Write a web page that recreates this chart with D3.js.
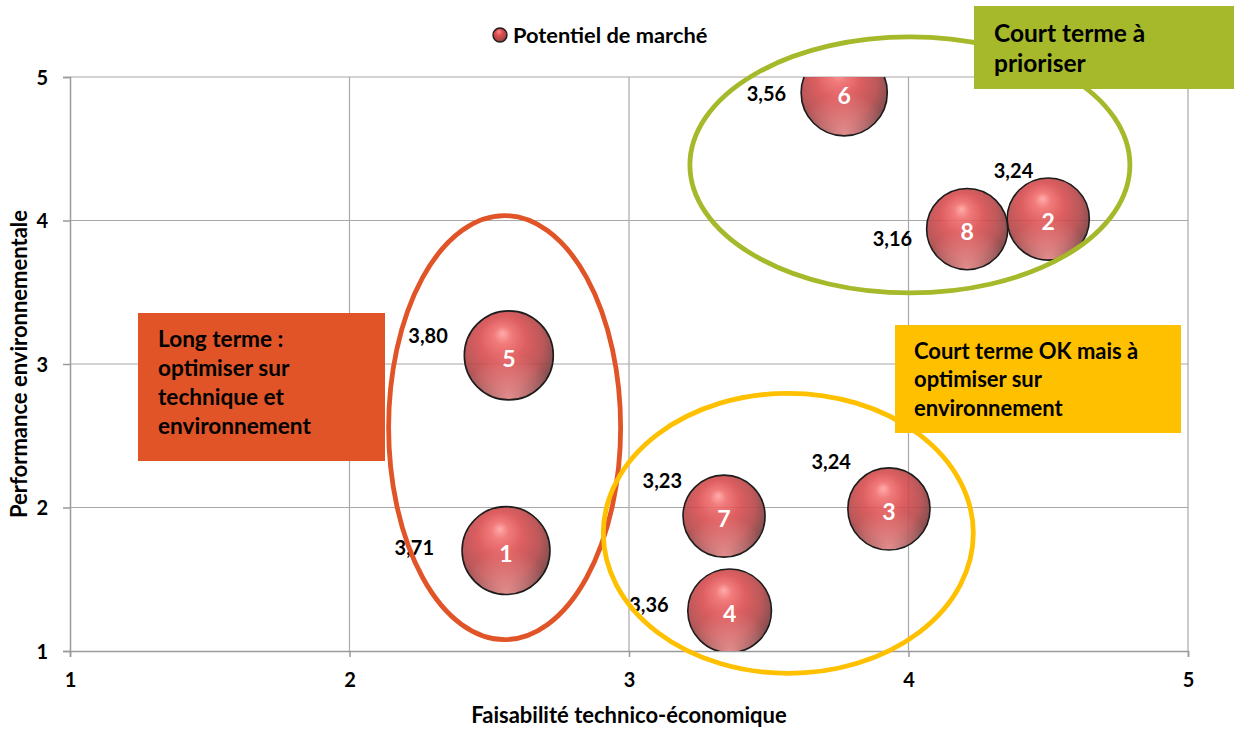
<!DOCTYPE html>
<html>
<head>
<meta charset="utf-8">
<script src="https://cdn.jsdelivr.net/npm/d3@7/dist/d3.min.js"></script>
<style>
  html, body { margin: 0; padding: 0; background: #fff; }
  svg { display: block; font-family: Lato, "Open Sans", sans-serif; font-weight: bold; }
</style>
</head>
<body>
<div id="chart"></div>
<script>
// ---- data ----
const projets = ["1", "2", "3", "4", "5", "6", "7", "8"];
const faisabilite = [2.56, 4.50, 3.93, 3.36, 2.57, 3.77, 3.34, 4.21];   // x
const performance = [1.70, 4.01, 1.99, 1.28, 3.06, 4.89, 1.94, 3.94];   // y
const potentiel   = [3.71, 3.24, 3.24, 3.36, 3.80, 3.56, 3.23, 3.16];   // bubble size
const xTicks = [1, 2, 3, 4, 5];
const yTicks = [1, 2, 3, 4, 5];
const seriesName = "Potentiel de marché";
const xTitle = "Faisabilité technico-économique";
const yTitle = "Performance environnementale";
const zones = [
  { lines: ["Court terme à", "prioriser"], colour: "#a5b92a" },
  { lines: ["Long terme :", "optimiser sur", "technique et", "environnement"], colour: "#e05428" },
  { lines: ["Court terme OK mais à", "optimiser sur", "environnement"], colour: "#ffc000" }
];
// label offsets (px) of the value labels relative to bubble centre (layout only)
const labelOffsets = [[-72, -3], [-15, -48], [-38, -47], [-61, -6], [-61, -20], [-58, 1], [-42, -35], [-55, 10]];

const W = 1235, H = 729;
const svg = d3.select("#chart").append("svg").attr("width", W).attr("height", H);

const x = d3.scaleLinear().domain([1, 5]).range([70, 1188]);
const y = d3.scaleLinear().domain([1, 5]).range([651, 77]);
const r = d3.scaleSqrt().domain([0, d3.max(potentiel)]).range([0, 44.5]);
const fmt = d3.formatLocale({ decimal: ",", thousands: " ", grouping: [3], currency: ["", "€"] }).format(".2f");

const defs = svg.append("defs");
const g1 = defs.append("radialGradient").attr("id", "ball")
  .attr("cx", 0.44).attr("cy", 0.42).attr("r", 0.62).attr("fx", 0.43).attr("fy", 0.25);
[[0, "#ffa3a3"], [0.16, "#f06c6c"], [0.42, "#d94d4f"], [0.72, "#b54648"], [1, "#6a3a3a"]]
  .forEach(([o, c]) => g1.append("stop").attr("offset", o).attr("stop-color", c));
const g2 = defs.append("radialGradient").attr("id", "refl")
  .attr("cx", 0.5).attr("cy", 0.98).attr("r", 0.5);
g2.append("stop").attr("offset", 0).attr("stop-color", "#ffa0a0").attr("stop-opacity", 0.75);
g2.append("stop").attr("offset", 1).attr("stop-color", "#ffa0a0").attr("stop-opacity", 0);
defs.append("clipPath").attr("id", "plotClip").append("rect")
  .attr("x", x(1)).attr("y", y(5)).attr("width", x(5) - x(1)).attr("height", y(1) - y(5));

// ---- grid ----
const grid = svg.append("g");
grid.selectAll(".vg").data(xTicks.slice(1)).join("line")
  .attr("x1", d => x(d)).attr("x2", d => x(d)).attr("y1", y(5)).attr("y2", y(1))
  .attr("stroke", "#a8a8a8").attr("stroke-width", 1.2);
grid.selectAll(".hg").data(yTicks.slice(1)).join("line")
  .attr("x1", x(1)).attr("x2", x(5)).attr("y1", d => y(d)).attr("y2", d => y(d))
  .attr("stroke", "#a8a8a8").attr("stroke-width", 1.2);

// ---- axes ----
const xAxis = svg.append("g").attr("transform", `translate(0,${y(1)})`)
  .call(d3.axisBottom(x).tickValues(xTicks).tickSize(6).tickPadding(16).tickFormat(d3.format("d")));
const yAxis = svg.append("g").attr("transform", `translate(${x(1)},0)`)
  .call(d3.axisLeft(y).tickValues(yTicks).tickSize(7).tickPadding(15).tickFormat(d3.format("d")));
[xAxis, yAxis].forEach(a => {
  a.select(".domain").attr("stroke", "#9a9a9a").attr("stroke-width", 1.5);
  a.selectAll(".tick line").attr("stroke", "#9a9a9a").attr("stroke-width", 1.5);
  a.selectAll(".tick text").attr("fill", "#000").style("font-family", "Lato").style("font-weight", "bold").style("font-size", "20px");
});
yAxis.selectAll(".tick text").attr("dy", "0.36em");
xAxis.selectAll(".tick text").attr("dy", "0.71em");

svg.append("text").attr("x", (x(1) + x(5)) / 2).attr("y", 723).attr("text-anchor", "middle")
  .style("font-size", "22px").text(xTitle);
svg.append("text").attr("transform", `translate(27,${(y(1) + y(5)) / 2}) rotate(-90)`).attr("text-anchor", "middle")
  .style("font-size", "22px").text(yTitle);

// ---- bubbles ----
const data = projets.map((p, i) => ({ p, x: faisabilite[i], y: performance[i], v: potentiel[i], off: labelOffsets[i] }));
const bub = svg.append("g").attr("clip-path", "url(#plotClip)");
const bg = bub.selectAll("g").data(data).join("g")
  .attr("transform", d => `translate(${x(d.x)},${y(d.y)})`);
bg.append("circle").attr("r", d => r(d.v)).attr("fill", "url(#ball)").attr("fill-opacity", 0.9);
bg.append("circle").attr("r", d => r(d.v)).attr("fill", "url(#refl)");
bg.append("circle").attr("r", d => r(d.v)).attr("fill", "none").attr("stroke", "#1c1c1c").attr("stroke-width", 1.6);
bg.append("text").attr("text-anchor", "middle").attr("y", 3).attr("dy", "0.36em")
  .attr("fill", "#fff").style("font-size", "23px").text(d => d.p);

// value labels
svg.append("g").selectAll("text").data(data).join("text")
  .attr("x", d => x(d.x) + d.off[0]).attr("y", d => y(d.y) + d.off[1]).attr("dy", "0.36em")
  .attr("text-anchor", "end").style("font-size", "20px").attr("fill", "#000")
  .text(d => fmt(d.v));

// ---- zone ellipses ----
const ell = svg.append("g").attr("fill", "none").attr("stroke-width", 4.8);
ell.append("ellipse").attr("cx", x(4.005)).attr("cy", y(4.387)).attr("rx", 220).attr("ry", 128)
  .attr("stroke", zones[0].colour);
ell.append("ellipse").attr("cx", x(2.555)).attr("cy", y(2.557)).attr("rx", 116).attr("ry", 212)
  .attr("stroke", zones[1].colour);
ell.append("ellipse").attr("cx", x(3.57)).attr("cy", y(1.82)).attr("rx", 185).attr("ry", 140)
  .attr("stroke", zones[2].colour);

// ---- zone boxes ----
const boxes = [
  { x: 974, y: 6, w: 260, h: 83, tx: 994, ty: 42, fs: 24.5, lh: 30 },
  { x: 138, y: 313, w: 247, h: 148, tx: 158, ty: 346.5, fs: 22.6, lh: 29.3 },
  { x: 895, y: 325, w: 286, h: 108, tx: 914, ty: 358.5, fs: 22, lh: 28.7 }
];
boxes.forEach((b, i) => {
  const gb = svg.append("g");
  gb.append("rect").attr("x", b.x).attr("y", b.y).attr("width", b.w).attr("height", b.h).attr("fill", zones[i].colour);
  const t = gb.append("text").attr("x", b.tx).attr("y", b.ty).style("font-size", b.fs + "px").attr("fill", "#000");
  zones[i].lines.forEach((l, k) => t.append("tspan").attr("x", b.tx).attr("dy", k ? b.lh : 0).text(l));
});

// ---- legend ----
const lg = svg.append("g").attr("transform", "translate(500,35)");
lg.append("circle").attr("r", 7).attr("fill", "url(#ball)");
lg.append("circle").attr("r", 7).attr("fill", "none").attr("stroke", "#1c1c1c").attr("stroke-width", 1.4);
lg.append("text").attr("x", 13).attr("dy", "0.36em").style("font-size", "21.8px").text(seriesName);
</script>
</body>
</html>
